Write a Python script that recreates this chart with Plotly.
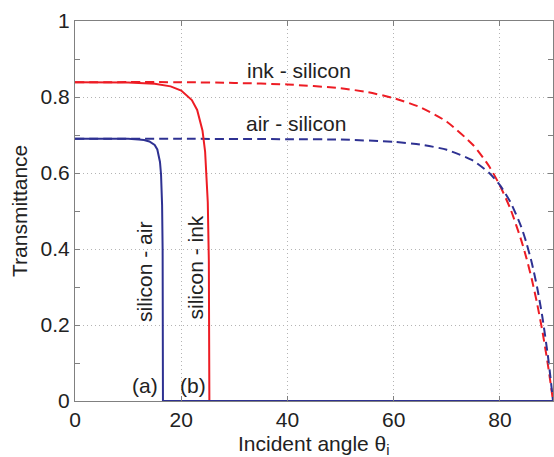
import plotly.graph_objects as go

# air -> silicon (dashed blue)
air_si_x = [0, 20, 40, 50, 60, 65, 70, 75, 78, 80, 82, 84, 85, 86, 87, 88, 89, 89.5, 90]
air_si_y = [0.690, 0.690, 0.689, 0.688, 0.682, 0.675, 0.661, 0.632, 0.600, 0.568, 0.523,
            0.459, 0.416, 0.364, 0.300, 0.221, 0.123, 0.065, 0.0]

# ink -> silicon (dashed red)
ink_si_x = [0, 20, 30, 40, 50, 55, 60, 65, 70, 75, 78, 80, 82, 84, 85, 86, 87, 88, 89, 89.5, 90]
ink_si_y = [0.839, 0.839, 0.837, 0.833, 0.823, 0.813, 0.797, 0.773, 0.735, 0.673, 0.617,
            0.567, 0.505, 0.424, 0.376, 0.321, 0.257, 0.184, 0.099, 0.051, 0.0]

# silicon -> air (solid blue)
si_air_x = [0, 10, 12, 13, 14, 15, 15.5, 16, 16.2, 16.4, 16.5, 16.55, 16.56, 90]
si_air_y = [0.690, 0.690, 0.688, 0.687, 0.683, 0.674, 0.662, 0.629, 0.596, 0.515, 0.396,
            0.153, 0.0, 0.0]

# silicon -> ink (solid red)
si_ink_x = [0, 10, 15, 18, 20, 22, 23, 24, 24.5, 25, 25.2, 25.25, 25.29, 25.3, 90]
si_ink_y = [0.839, 0.838, 0.835, 0.828, 0.817, 0.792, 0.766, 0.712, 0.656, 0.523, 0.369,
            0.287, 0.145, 0.0, 0.0]

x_ticks = [0, 20, 40, 60, 80]
y_ticks = [0, 0.2, 0.4, 0.6, 0.8, 1]
y_tick_labels = ["0", "0.2", "0.4", "0.6", "0.8", "1"]

BLUE = "#2e3192"
RED = "#ed1c24"
FONT = "Liberation Sans, Arial, sans-serif"

fig = go.Figure()
fig.add_trace(go.Scatter(x=ink_si_x, y=ink_si_y, mode="lines", cliponaxis=False,
                         line=dict(color=RED, width=2, dash="9px,5px", shape="spline", smoothing=0.6)))
fig.add_trace(go.Scatter(x=air_si_x, y=air_si_y, mode="lines", cliponaxis=False,
                         line=dict(color=BLUE, width=2, dash="9px,5px", shape="spline", smoothing=0.6)))
fig.add_trace(go.Scatter(x=si_ink_x, y=si_ink_y, mode="lines",
                         line=dict(color=RED, width=2)))
fig.add_trace(go.Scatter(x=si_air_x, y=si_air_y, mode="lines",
                         line=dict(color=BLUE, width=2)))

axis_common = dict(
    showline=True, linecolor="#808080", linewidth=1, mirror="ticks",
    ticks="inside", ticklen=5, tickcolor="#808080", tickwidth=1,
    showgrid=True, gridcolor="#b4b4b4", griddash="1px,3px", gridwidth=1,
    zeroline=False, tickfont=dict(family=FONT, size=21, color="#222"),
)

fig.update_xaxes(range=[0, 90], tickvals=x_ticks, **axis_common)
fig.update_yaxes(range=[0, 1], tickvals=y_ticks, ticktext=y_tick_labels,
                 minor=dict(dtick=0.1, ticks="inside", ticklen=5, tickcolor="#808080", showgrid=False),
                 **axis_common)

text_font = dict(family=FONT, size=21, color="#222")
annots = [
    dict(x=42.1, y=0.871, text="ink - silicon", showarrow=False, font=text_font),
    dict(x=41.7, y=0.729, text="air - silicon", showarrow=False, font=text_font),
    dict(x=13.2, y=0.34, text="silicon - air", showarrow=False, textangle=-90, font=text_font),
    dict(x=22.5, y=0.35, text="silicon - ink", showarrow=False, textangle=-90, font=text_font),
    dict(x=13.1, y=0.042, text="(a)", showarrow=False, font=text_font),
    dict(x=22.2, y=0.042, text="(b)", showarrow=False, font=text_font),
    dict(x=0, y=0.5, xref="paper", yref="paper", text="Transmittance", showarrow=False,
         textangle=-90, xanchor="center", yanchor="middle", xshift=-56, font=text_font),
    dict(x=0.5, y=0, xref="paper", yref="paper", text="Incident angle θ<sub>i</sub>", showarrow=False,
         xanchor="center", yanchor="middle", yshift=-44, font=text_font),
]

fig.update_layout(
    width=554, height=457,
    margin=dict(l=75, r=1, t=21, b=56),
    paper_bgcolor="white", plot_bgcolor="white",
    showlegend=False, annotations=annots,
)

fig.write_html("out.html", config={"displayModeBar": False},
               post_script="document.body.style.margin='0';document.body.style.padding='0';")
